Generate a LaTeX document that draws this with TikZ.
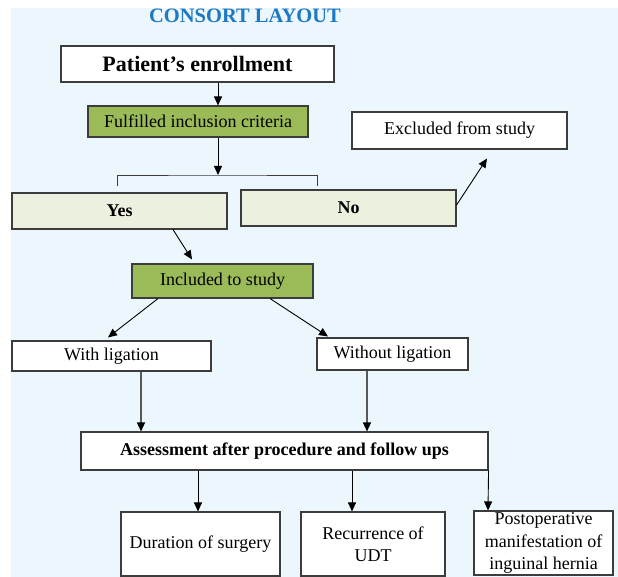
\documentclass[tikz,border=0pt]{standalone}
\usepackage{fontspec}
\setmainfont{Liberation Serif}
\usetikzlibrary{arrows.meta}
\definecolor{bgblue}{HTML}{EBF6FD}
\definecolor{titleblue}{HTML}{1E78C2}
\definecolor{olive}{HTML}{9BBB59}
\definecolor{paleolive}{HTML}{EBF1DE}
\definecolor{edgegray}{HTML}{3C3C3C}
\begin{document}
\begin{tikzpicture}[x=1pt,y=-1pt,
        box/.style={draw=edgegray,line width=1.1pt,fill=white,inner sep=0pt,
                align=center,font=\fontsize{18}{22.5}\selectfont},
        greenbox/.style={box,fill=olive},
        palebox/.style={box,fill=paleolive,font=\fontsize{18}{22.5}\selectfont\bfseries},
        arr/.style={-{Triangle[length=9pt,width=8pt,color=black]},line width=0.9pt,black},
        grayarr/.style={arr,draw=black!65,line width=1.3pt}]
        \useasboundingbox (0,0) rectangle (618,577);
        \fill[bgblue] (11,8) rectangle (618,577);
        \node (title) at (245,16) [font=\fontsize{20.5}{24}\selectfont\bfseries,text=titleblue]{CONSORT LAYOUT};
        \node (enroll) at (197.5,64) [box,minimum width=273pt,minimum height=36pt,
                font=\fontsize{22}{26}\selectfont\bfseries]{Patient’s enrollment};
        \node (crit) at (198,121.5) [greenbox,minimum width=220pt,minimum height=31pt]{Fulfilled inclusion criteria};
        \node (excl) at (459.5,130.5) [box,minimum width=215pt,minimum height=37pt]{Excluded from study};
        \node (yes) at (119.5,211) [palebox,minimum width=215pt,minimum height=36pt]{Yes};
        \node (no) at (348.5,208) [palebox,minimum width=215pt,minimum height=36pt]{No};
        \node (incl) at (222.5,281) [greenbox,minimum width=181pt,minimum height=34pt]{Included to study};
        \node (withl) at (111.5,356) [box,minimum width=199pt,minimum height=30pt]{With ligation};
        \node (nolig) at (392.5,354) [box,minimum width=151pt,minimum height=32pt]{Without ligation};
        \node (assess) at (284.5,451) [box,minimum width=407pt,minimum height=38pt,
                font=\fontsize{18}{22}\selectfont\bfseries]{Assessment after procedure and follow ups};
        \node (dur) at (200.5,544) [box,minimum width=159pt,minimum height=64pt]{Duration of surgery};
        \node (recur) at (373,544) [box,minimum width=144pt,minimum height=64pt]{Recurrence of\\UDT};
        \node (post) at (543.5,543) [box,minimum width=139pt,minimum height=64pt]{Postoperative\\manifestation of\\inguinal hernia};
        \coordinate (split) at (218,175);
        % bracket under the criteria
        \draw[edgegray,line width=0.9pt] ([xshift=-2.5pt,yshift=6pt]yes.north) |- (split)
                -| ([xshift=-31.5pt,yshift=3pt]no.north);
        \draw[arr] ([xshift=20.5pt]enroll.south) -- ([xshift=20pt]crit.north);
        \draw[arr] ([xshift=20pt]crit.south) -- (split);
        \draw[arr] ([yshift=3pt]no.east) -- ([xshift=27.5pt,yshift=-9pt]excl.south);
        \draw[arr] ([xshift=53.5pt]yes.south) -- ([xshift=-30.5pt,yshift=4pt]incl.north);
        \draw[arr] ([xshift=-64.5pt]incl.south) -- ([xshift=-3.5pt,yshift=3pt]withl.north);
        \draw[arr] ([xshift=47.5pt]incl.south) -- ([xshift=-64.5pt,yshift=1pt]nolig.north);
        \draw[grayarr] ([xshift=29.5pt]withl.south) -- ([xshift=29.5pt]withl.south |- assess.north);
        \draw[grayarr] ([xshift=-25.5pt]nolig.south) -- ([xshift=-25.5pt]nolig.south |- assess.north);
        \draw[arr] ([xshift=-2.5pt]dur.north |- assess.south) -- ([xshift=-2.5pt]dur.north);
        \draw[arr] ([xshift=-21pt]recur.north |- assess.south) -- ([xshift=-21pt]recur.north);
        \draw[arr] (assess.south east) -- ([xshift=-55.5pt]post.north);
\end{tikzpicture}
\end{document}
